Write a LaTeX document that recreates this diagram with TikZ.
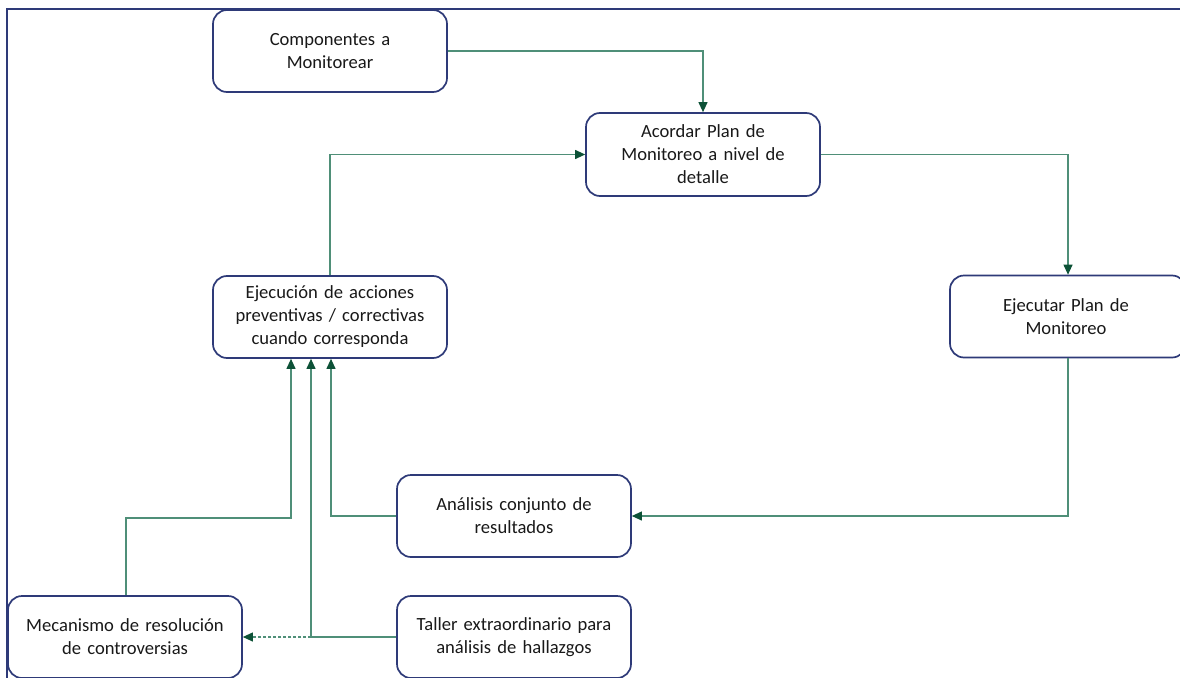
\documentclass[tikz,border=0pt]{standalone}
\usepackage{fontspec}
\setmainfont{Carlito}
\usetikzlibrary{arrows.meta}
\definecolor{navy}{HTML}{2E3A78}
\definecolor{lgreen}{HTML}{4F8F78}
\definecolor{dgreen}{HTML}{0D5237}
\tikzset{
  box/.style={draw=navy, line width=1.7pt, rounded corners=14pt, fill=white,
    minimum width=234pt, minimum height=82pt, align=center, text width=228pt,
    font=\fontsize{18.6}{23}\selectfont, text=black!90, inner sep=0pt},
  conn/.style={draw=lgreen, line width=1.1pt,
    -{Triangle[length=10pt,width=9pt,fill=dgreen,color=dgreen]}},
  plain/.style={draw=lgreen, line width=1.1pt},
}
\begin{document}
\begin{tikzpicture}[x=1pt,y=-1pt]
\useasboundingbox (0,0) rectangle (1180,677);
\clip (0,0) rectangle (1180,677);
\draw[navy, line width=2pt] (7,9) rectangle (1200,700);

\node[box] (comp) at (330,51) {Componentes a\\Monitorear};
\node[box, minimum height=83pt] (acor) at (703,154.5) {Acordar Plan de\\Monitoreo a nivel de\\detalle};
\node[box] (ejec) at (330,317) {Ejecución de acciones\\preventivas / correctivas\\cuando corresponda};
\node[box, minimum width=236pt] (ejtr) at (1068,316.5) {\hspace*{-4pt}Ejecutar Plan de\\\hspace*{-4pt}Monitoreo};
\node[box] (anal) at (514,516) {Análisis conjunto de\\resultados};
\node[box] (meca) at (125,637) {Mecanismo de resolución\\de controversias};
\node[box] (tall) at (514,637) {Taller extraordinario para\\análisis de hallazgos};

\draw[conn] (comp.east) -| (acor.north);
\draw[conn] (ejec.north) |- (acor.west);
\draw[conn] (acor.east) -| (ejtr.north);
\draw[conn] (ejtr.south) |- (anal.east);
\draw[conn] (anal.west) -| ([xshift=1pt]ejec.south);
\coordinate (m1) at (126,518);
\draw[conn] (meca.north -| m1) |- ([xshift=-39pt]ejec.south |- m1) -- ([xshift=-39pt]ejec.south);
\coordinate (t1) at (311,637);
\draw[plain] (tall.west) -- (t1);
\draw[conn] (t1) -- (t1 |- ejec.south);
\draw[conn, dashed, dash pattern=on 3pt off 2pt] (t1) -- (meca.east);
\end{tikzpicture}
\end{document}
